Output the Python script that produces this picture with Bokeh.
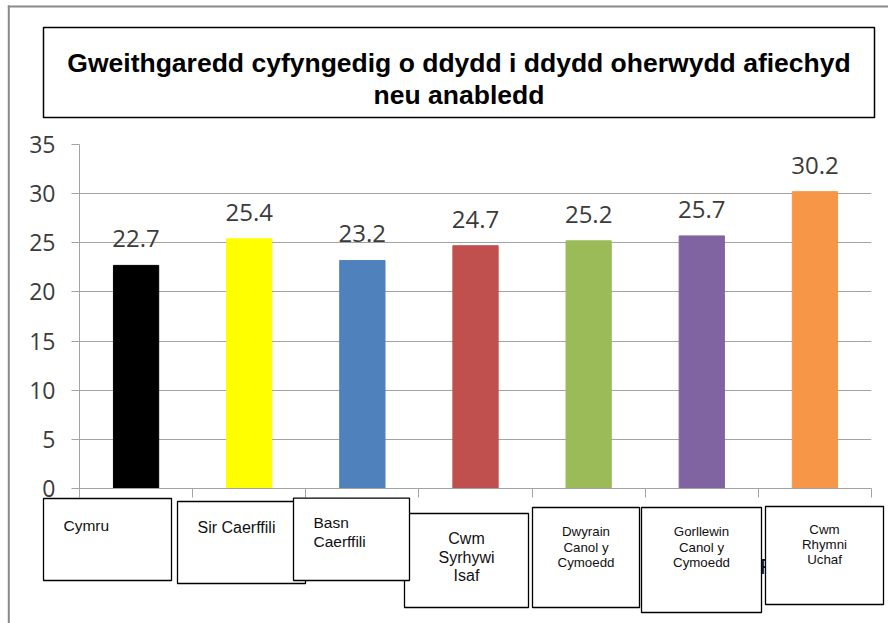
from bokeh.plotting import figure
from bokeh.layouts import column, row
from bokeh.models import ColumnDataSource, Range1d, FixedTicker, LabelSet
from bokeh.core.properties import value
from bokeh.embed import file_html
from bokeh.resources import INLINE

# ---------------- data ----------------
categories = ["Cymru", "Sir Caerffili", "Basn Caerffili", "Cwm Syrhywi Isaf",
              "Dwyrain Canol y Cymoedd", "Gorllewin Canol y Cymoedd", "Cwm Rhymni Uchaf"]
category_lines = [["Cymru"], ["Sir Caerffili"], ["Basn", "Caerffili"], ["Cwm", "Syrhywi", "Isaf"],
                  ["Dwyrain", "Canol y", "Cymoedd"], ["Gorllewin", "Canol y", "Cymoedd"],
                  ["Cwm", "Rhymni", "Uchaf"]]
values = [22.7, 25.4, 23.2, 24.7, 25.2, 25.7, 30.2]
value_labels = ["22.7", "25.4", "23.2", "24.7", "25.2", "25.7", "30.2"]
colors = ["#000000", "#FFFF00", "#4F81BD", "#C0504D", "#9BBB59", "#8064A2", "#F79646"]
y_ticks = [0, 5, 10, 15, 20, 25, 30, 35]
title_lines = ["Gweithgaredd cyfyngedig o ddydd i ddydd oherwydd afiechyd", "neu anabledd"]

# ---------------- layout constants (page pixels) ----------------
W, H = 888, 623
FRAME_L, FRAME_R, FRAME_T, FRAME_B = 79, 871, 144, 488
BX0, BX1 = 7.3, 9.3         # outer border, left stroke
BY0, BY1 = 5, 7             # outer border, top stroke
BORDER_COLOR = "#8a8a8a"
GRAY = "#a3a3a3"
NUM_COLOR = "#3b3b3b"
TXT_COLOR = "#111111"
n = len(categories)

# ---------- main chart ----------
M = figure(width=W, height=H, output_backend="svg", toolbar_location=None,
           x_range=Range1d(0, n), y_range=Range1d(0, 35),
           min_border_left=FRAME_L, min_border_right=W - FRAME_R,
           min_border_top=FRAME_T, min_border_bottom=H - FRAME_B)
M.outline_line_color = None
M.background_fill_color = "white"
M.border_fill_color = "white"
M.xgrid.grid_line_color = None

yax = M.yaxis[0]
yax.ticker = FixedTicker(ticks=y_ticks)
yax.axis_line_color = GRAY
yax.major_tick_line_color = GRAY
yax.major_tick_out = 8
yax.major_tick_in = 0
yax.minor_tick_line_color = None
yax.major_label_text_font = "Open Sans"
yax.major_label_text_font_size = "23px"
yax.major_label_text_color = NUM_COLOR
yax.major_label_standoff = 16
M.ygrid.grid_line_color = GRAY
M.ygrid.ticker = FixedTicker(ticks=y_ticks)

xax = M.xaxis[0]
xax.ticker = FixedTicker(ticks=list(range(n + 1)))      # category boundaries
xax.axis_line_color = GRAY
xax.major_tick_line_color = GRAY
xax.major_tick_out = 9
xax.major_tick_in = 0
xax.minor_tick_line_color = None
xax.major_label_text_font_size = "0px"
xax.major_label_standoff = 0
xax.major_label_text_color = None

src = ColumnDataSource(dict(x=[i + 0.5 for i in range(n)], cat=categories, val=values,
                            lab=value_labels, col=colors))
M.vbar(x="x", top="val", width=0.4, color="col", source=src)
M.add_layout(LabelSet(x="x", y="val", text="lab", source=src, y_offset=18,
                      text_align="center", text_baseline="alphabetic",
                      text_font=value("Open Sans"), text_font_size="24px",
                      text_color=NUM_COLOR))

# ---------- transparent overlay: border, title box, category label boxes ----------
O = figure(width=W, height=H, output_backend="svg", toolbar_location=None,
           x_range=Range1d(0, W), y_range=Range1d(H, 0),
           x_axis_location=None, y_axis_location=None, min_border=0)
O.min_border_left = O.min_border_right = O.min_border_top = O.min_border_bottom = 0
O.outline_line_color = None
O.grid.visible = False
O.background_fill_alpha = 0
O.border_fill_alpha = 0
O.margin = (-H, 0, 0, 0)

# outer border (left and top strokes; the rest lies outside the picture)
O.quad(left=[BX0, BX0], right=[BX1, W + 5], top=[BY0, BY0], bottom=[H + 5, BY1],
       fill_color=BORDER_COLOR, line_color=None)

# title box
O.quad(left=[43], right=[874], top=[27], bottom=[117], fill_color="white",
       line_color="black", line_width=1.5)
O.text(x=[458.5, 458.5], y=[62, 94], text=title_lines, text_align="center",
       text_baseline="alphabetic", text_font=value("Liberation Sans"),
       text_font_style="bold", text_font_size=value("26.5px"), text_color="black")

# (left, top, right, bottom, text x, align, first baseline, line spacing, font size)
boxes = [
    (43, 498, 171, 580, 63, "left", 525, 19, "15.5px"),
    (177, 501, 305, 583, 197, "left", 527, 19, "16px"),
    (293, 497.6, 409, 580, 313, "left", 522, 19, "15.5px"),
    (404, 513, 528, 607, 466, "center", 538, 18.5, "16px"),
    (532, 507, 639, 607, 585.5, "center", 531, 15.5, "13.3px"),
    (641, 507, 761, 612, 701, "center", 531, 15.5, "13.3px"),
    (765, 506, 883, 604, 824, "center", 529, 15, "13.3px"),
]
order = [0, 1, 3, 2, 4, 5, 6]


def draw_box(i):
    l, t, r, b, tx, align, base, sp, fs = boxes[i]
    O.quad(left=[l], right=[r], top=[t], bottom=[b], fill_color="white",
           line_color="black", line_width=1.3)
    lines = category_lines[i]
    O.text(x=[tx] * len(lines), y=[base + k * sp for k in range(len(lines))], text=lines,
           text_align=align, text_baseline="alphabetic", text_font=value("Liberation Sans"),
           text_font_size=value(fs), text_color=TXT_COLOR)


for i in order[:-1]:
    draw_box(i)
# partly hidden letter behind the last box
O.text(x=[759.5], y=[566], text=["P"], text_align="left", text_baseline="alphabetic",
       text_font=value("Liberation Sans"), text_font_size=value("22px"), text_color=TXT_COLOR)
draw_box(order[-1])

# wrapping the chart in a row keeps the overlay's frame independent of the chart's frame
layout = column(row(M), O)
open("out.html", "w").write(file_html(layout, INLINE))
